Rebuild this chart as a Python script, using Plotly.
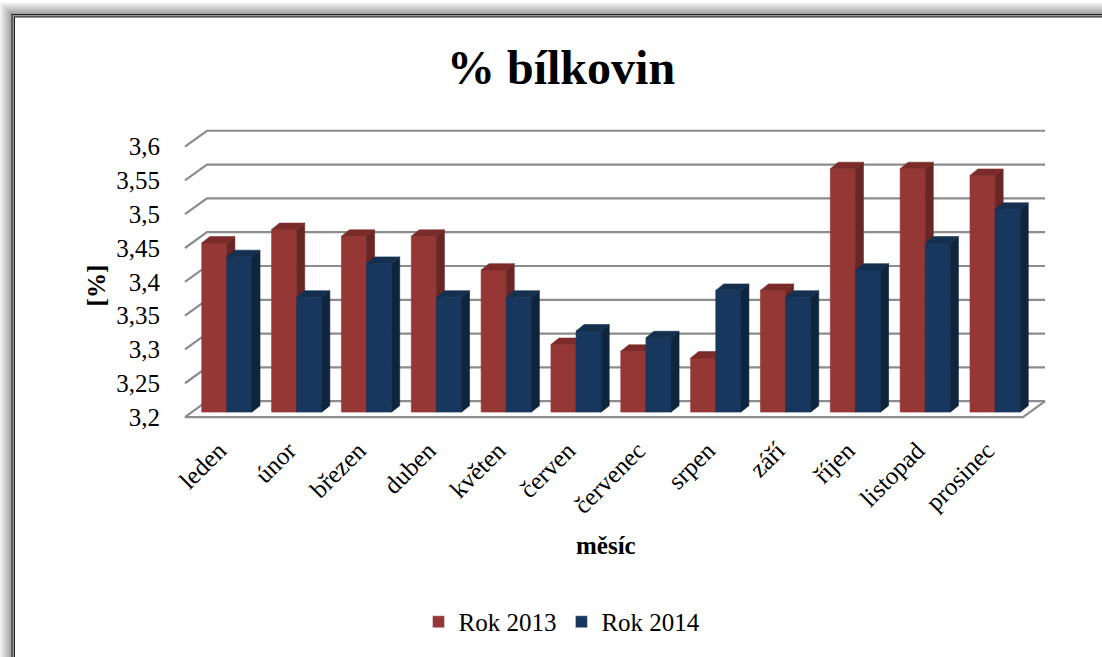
import plotly.graph_objects as go

# ---------------- data ----------------
months = ["leden", "únor", "březen", "duben", "květen", "červen",
          "červenec", "srpen", "září", "říjen", "listopad", "prosinec"]
rok2013 = [3.45, 3.47, 3.46, 3.46, 3.41, 3.30, 3.29, 3.28, 3.38, 3.56, 3.56, 3.55]
rok2014 = [3.43, 3.37, 3.42, 3.37, 3.37, 3.32, 3.31, 3.38, 3.37, 3.41, 3.45, 3.50]
series_names = ["Rok 2013", "Rok 2014"]
y_tickvals = [3.2, 3.25, 3.3, 3.35, 3.4, 3.45, 3.5, 3.55, 3.6]
y_ticktext = ["3,2", "3,25", "3,3", "3,35", "3,4", "3,45", "3,5", "3,55", "3,6"]
title_text = "% bílkovin"
x_title = "měsíc"
y_title = "[%]"

# ---------------- styling / geometry ----------------
W, H = 1102, 657
ML, MR, MT, MB = 178, 51, 125, 232
PW, PH = W - ML - MR, H - MT - MB
XR = [-0.7, 11.8]
PX_X = PW / (XR[1] - XR[0])
BASE = y_tickvals[0]
PX_Y = 683.0
BASE_PX = 415 - MT           # pixels from plot top to base in bar plane
YTOP = BASE + BASE_PX / PX_Y
YR = [YTOP - PH / PX_Y, YTOP]

FONT = "Liberation Serif, Times New Roman, serif"
RED = ("#953735", "#682625", "#7b2c2a")     # front, side, top
BLUE = ("#17375e", "#0f243d", "#15304f")
GRID = "#8c8c8c"


def ux(p):
    return p / PX_X


def uy(p):
    return p / PX_Y


def paper_x(px):
    return (px - ML) / PW


def paper_y(py):
    return (H - MB - py) / PH


# 3D offsets (data units)
FDX, FDY = ux(-7), uy(-5)      # front edge of floor/walls relative to bar plane
BDX, BDY = ux(15), uy(11)      # back wall relative to bar plane
DDX, DDY = ux(8), uy(6.5)      # bar depth
HALF = 0.36
XL, XRR = -0.5, len(months) - 0.5
LABEL_SHIFT = ux(-8)           # category labels sit at the front edge

fig = go.Figure()

# gridlines (back wall + left wall)
gx, gy = [], []
for v in y_tickvals:
    gx += [XL + FDX, XL + BDX, XRR + BDX, None]
    gy += [v + FDY, v + BDY, v + BDY, None]
# floor front edge + right edge
gx += [XL + FDX, XRR + FDX, XRR + BDX, None]
gy += [BASE + FDY, BASE + FDY, BASE + BDY, None]
fig.add_trace(go.Scatter(x=gx, y=gy, mode="lines", line=dict(color=GRID, width=2.2),
                         hoverinfo="skip", showlegend=False))


def add_bars(values, x_shift, colors):
    fx, fy, sx, sy, tx, ty = [], [], [], [], [], []
    for i, v in enumerate(values):
        x0 = i + x_shift
        x1 = x0 + HALF
        fx += [x0, x0, x1, x1, x0, None]
        fy += [BASE, v, v, BASE, BASE, None]
        sx += [x1, x1, x1 + DDX, x1 + DDX, x1, None]
        sy += [BASE, v, v + DDY, BASE + DDY, BASE, None]
        tx += [x0, x0 + DDX, x1 + DDX, x1, x0, None]
        ty += [v, v + DDY, v + DDY, v, v, None]
    for xs, ys, c in ((fx, fy, colors[0]), (sx, sy, colors[1]), (tx, ty, colors[2])):
        fig.add_trace(go.Scatter(x=xs, y=ys, mode="lines", fill="toself", fillcolor=c,
                                 line=dict(color=c, width=0.6), hoverinfo="skip",
                                 showlegend=False))


add_bars(rok2013, -HALF, RED)
add_bars(rok2014, 0.0, BLUE)

# legend entries
for name, col in zip(series_names, (RED[0], BLUE[0])):
    fig.add_trace(go.Bar(x=[None], y=[None], name=name, marker_color=col))

# frame with shadow
shapes = []
for k in range(12):
    g = int(0xf2 - (0xf2 - 0xa0) * k / 11)
    c = "#%02x%02x%02x" % (g, g, g)
    shapes.append(dict(type="rect", xref="paper", yref="paper", layer="below",
                       x0=paper_x(k), x1=paper_x(W + 50), y0=paper_y(k + 1.5), y1=paper_y(H + 50),
                       fillcolor=c, line=dict(width=0)))
for (ox, oy, c) in ((11.5, 13.0, "#1e1e1e"), (12.5, 14.0, "#9a9a9a"),
                    (14.0, 15.5, "#1e1e1e"), (15.0, 16.5, "#ffffff")):
    shapes.append(dict(type="rect", xref="paper", yref="paper", layer="below",
                       x0=paper_x(ox), x1=paper_x(W + 50), y0=paper_y(oy), y1=paper_y(H + 50),
                       fillcolor=c, line=dict(width=0)))

annotations = [
    dict(text="<b>%s</b>" % title_text, xref="paper", yref="paper", x=paper_x(561), y=paper_y(67),
         xanchor="center", yanchor="middle", showarrow=False, font=dict(family=FONT, size=48, color="black")),
    dict(text="<b>%s</b>" % x_title, xref="paper", yref="paper", x=paper_x(606), y=paper_y(550),
         xanchor="center", yanchor="middle", showarrow=False, font=dict(family=FONT, size=25, color="black")),
    dict(text="<b>%s</b>" % y_title, xref="paper", yref="paper", x=paper_x(96), y=paper_y(287),
         xanchor="center", yanchor="middle", textangle=-90, showarrow=False,
         font=dict(family=FONT, size=25, color="black")),
]

fig.update_layout(
    width=W, height=H,
    margin=dict(l=ML, r=MR, t=MT, b=MB, pad=0),
    paper_bgcolor="white", plot_bgcolor="rgba(0,0,0,0)",
    font=dict(family=FONT, size=25, color="black"),
    shapes=shapes, annotations=annotations,
    showlegend=True,
    legend=dict(orientation="h", x=paper_x(562), xanchor="center", y=paper_y(627), yanchor="middle",
                font=dict(family=FONT, size=25, color="black"), bgcolor="rgba(0,0,0,0)"),
    xaxis=dict(type="linear", range=XR, showgrid=False, zeroline=False, showline=False,
               tickmode="array", tickvals=[i + LABEL_SHIFT for i in range(len(months))], ticktext=months,
               tickangle=-45, ticks="", ticklabelstandoff=8, fixedrange=True),
    yaxis=dict(type="linear", range=YR, showgrid=False, zeroline=False, showline=False,
               tickmode="array", tickvals=y_tickvals, ticktext=y_ticktext,
               ticks="", ticklabelstandoff=17, ticklabelshift=5, fixedrange=True),
)

fig.write_html("out.html")
